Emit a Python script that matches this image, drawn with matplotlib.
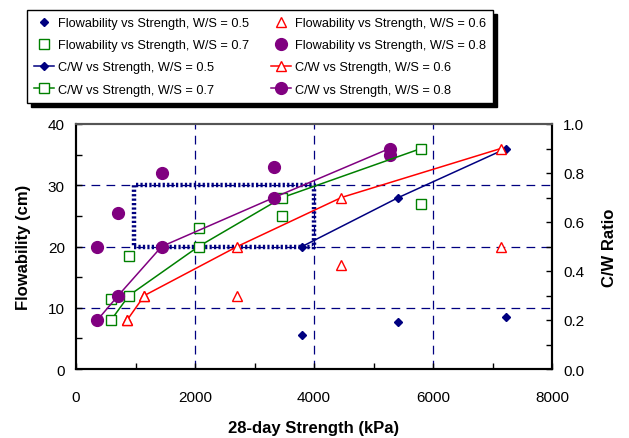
import matplotlib
matplotlib.use("Agg")
import matplotlib.pyplot as plt
from matplotlib.ticker import MultipleLocator

NAVY, RED, GREEN, PURPLE = "#000080", "#ff0000", "#008000", "#800080"
plt.rcParams.update({"font.family": ["Liberation Sans", "DejaVu Sans"], "font.size": 11})

# W/S = 0.5 .. 0.8 : 28-day strength (kPa), flowability (cm), C/W ratio
strength_05 = [3800, 5420, 7230]
flow_05 = [5.5, 7.6, 8.5]
cw_05 = [0.5, 0.7, 0.9]

strength_06 = [860, 1150, 2710, 4460, 7140]
flow_06 = [8, 12, 12, 17, 20]
cw_06 = [0.2, 0.3, 0.5, 0.7, 0.9]

strength_07 = [590, 890, 2060, 3470, 5800]
flow_07 = [11.5, 18.5, 23, 25, 27]
cw_07 = [0.2, 0.3, 0.5, 0.7, 0.9]

strength_08 = [360, 710, 1440, 3330, 5270]
flow_08 = [20, 25.5, 32, 33, 35]
cw_08 = [0.2, 0.3, 0.5, 0.7, 0.9]

# highlighted region (strength range x flowability range)
box_x = [980, 4000]
box_y = [20, 30]

fig = plt.figure(figsize=(6.29, 4.39), dpi=100)
ax = fig.add_axes([76/629, 1-370/439, 476/629, 245/439])
ax2 = ax.twinx()

styles = [
    (strength_05, flow_05, cw_05, NAVY, "D", 4.0, NAVY, "0.5"),
    (strength_06, flow_06, cw_06, RED, "^", 7.0, "white", "0.6"),
    (strength_07, flow_07, cw_07, GREEN, "s", 6.5, "white", "0.7"),
    (strength_08, flow_08, cw_08, PURPLE, "o", 8.5, PURPLE, "0.8"),
]
flow_h, cw_h = [], []
for s, f, c, col, m, ms, fc, ws in styles:
    h, = ax.plot(s, f, ls="none", marker=m, ms=ms, mfc=fc, mec=col, mew=1.0,
                 label=f"Flowability vs Strength, W/S = {ws}", zorder=4)
    flow_h.append(h)
    h2, = ax2.plot(s, c, color=col, lw=1.1, marker=m, ms=ms, mfc=fc, mec=col, mew=1.0,
                   label=f"C/W vs Strength, W/S = {ws}", zorder=4)
    cw_h.append(h2)

ax.plot([box_x[0], box_x[1], box_x[1], box_x[0], box_x[0]],
         [box_y[0], box_y[0], box_y[1], box_y[1], box_y[0]],
         color=NAVY, ls=(0, (0.5, 0.5)), lw=3.2, zorder=3)

ax.set_xlim(0, 8000)
ax.set_ylim(0, 40)
ax2.set_ylim(0, 1.0)
ax.xaxis.set_major_locator(MultipleLocator(2000))
ax.xaxis.set_minor_locator(MultipleLocator(1000))
ax.yaxis.set_major_locator(MultipleLocator(10))
ax.yaxis.set_minor_locator(MultipleLocator(5))
ax2.yaxis.set_major_locator(MultipleLocator(0.2))
ax2.yaxis.set_minor_locator(MultipleLocator(0.1))
ax2.yaxis.set_major_formatter(lambda v, p: f"{v:.1f}")
for a in (ax, ax2):
    a.tick_params(which="both", direction="in", length=4, width=1, labelsize=11, pad=8)
ax.tick_params(axis="x", pad=15)

for v in [2000, 4000, 6000]:
    ax.axvline(v, color=NAVY, ls=(0, (7, 5)), lw=0.9, zorder=1)
for v in [10, 20, 30]:
    ax.axhline(v, color=NAVY, ls=(0, (7, 5)), lw=0.9, zorder=1)

for a in (ax, ax2):
    for sp in a.spines.values():
        sp.set_linewidth(1.5)
    a.spines["top"].set_color("#555555")

ax.set_xlabel("28-day Strength (kPa)", fontweight="bold", fontsize=12, labelpad=12)
ax.set_ylabel("Flowability (cm)", fontweight="bold", fontsize=12, labelpad=12)
ax2.set_ylabel("C/W Ratio", fontweight="bold", fontsize=12, labelpad=13)

order = [flow_h[0], flow_h[2], cw_h[0], cw_h[2], flow_h[1], flow_h[3], cw_h[1], cw_h[3]]
leg = fig.legend(handles=order, labels=[h.get_label() for h in order], ncol=2,
                 loc="upper left", bbox_to_anchor=(27/629, 1-100/439, 466/629, 89/439),
                 mode="expand", borderaxespad=0, fontsize=9.2, frameon=True, fancybox=False,
                 edgecolor="black", handlelength=1.6, handletextpad=0.3, labelspacing=0.8,
                 borderpad=0.55, shadow={"ox": 3, "oy": -3, "color": "black", "alpha": 1})
leg.get_frame().set_linewidth(1.0)

fig.savefig("out.png", dpi=100)
